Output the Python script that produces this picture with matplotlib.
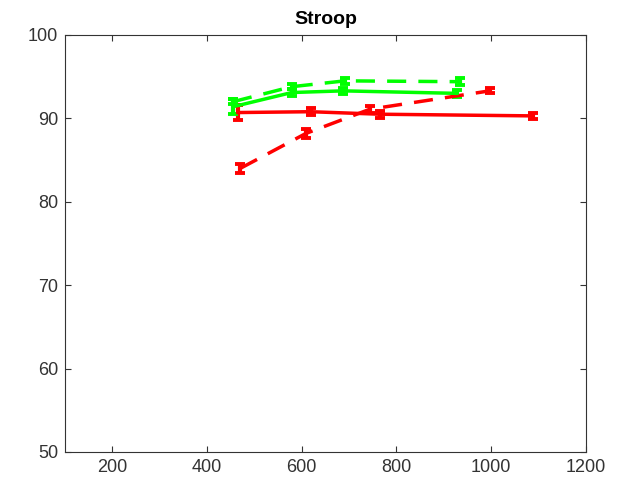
import matplotlib
matplotlib.use("Agg")
import matplotlib.pyplot as plt

plt.rcParams['font.family'] = ['Liberation Sans', 'DejaVu Sans']

# incongruent / congruent, solid and dashed conditions
red_solid_x = [465, 619, 765, 1088]
red_solid_y = [90.7, 90.8, 90.5, 90.3]
red_solid_err = [0.9, 0.4, 0.4, 0.4]

red_dash_x = [470, 609, 744, 997]
red_dash_y = [84.0, 88.2, 91.1, 93.3]
red_dash_err = [0.5, 0.5, 0.4, 0.3]

green_solid_x = [455, 579, 687, 928]
green_solid_y = [91.4, 93.1, 93.3, 93.0]
green_solid_err = [0.9, 0.4, 0.4, 0.4]

green_dash_x = [455, 579, 691, 934]
green_dash_y = [92.0, 93.8, 94.5, 94.4]
green_dash_err = [0.3, 0.3, 0.4, 0.4]

xticks = [200, 400, 600, 800, 1000, 1200]
yticks = [50, 60, 70, 80, 90, 100]

fig = plt.figure(figsize=(6.34, 4.9), dpi=100)
ax = fig.add_axes([0.1025, 0.0776, 0.8215, 0.851])

series = [
    (red_solid_x, red_solid_y, red_solid_err, '#ff0000', '-'),
    (red_dash_x, red_dash_y, red_dash_err, '#ff0000', '--'),
    (green_solid_x, green_solid_y, green_solid_err, '#00ff00', '-'),
    (green_dash_x, green_dash_y, green_dash_err, '#00ff00', '--'),
]
for x, y, e, c, ls in series:
    line, caps, bars = ax.errorbar(x, y, yerr=e, color=c, lw=2.5, ls=ls,
                                   elinewidth=3, capsize=3.5, capthick=2.8)
    if ls == '--':
        line.set_dashes((5.5, 3.5))

ax.set_xlim(100, 1200)
ax.set_ylim(50, 100)
ax.set_xticks(xticks)
ax.set_yticks(yticks)
ax.tick_params(direction='in', length=4, width=0.8, colors='#333333',
               labelsize=13, pad=5, top=True, right=True,
               labeltop=False, labelright=False)
for s in ax.spines.values():
    s.set_color('#333333')
    s.set_linewidth(0.8)
ax.set_title('Stroop', fontsize=14, fontweight='bold', pad=8)

fig.savefig('out.png', dpi=100)
